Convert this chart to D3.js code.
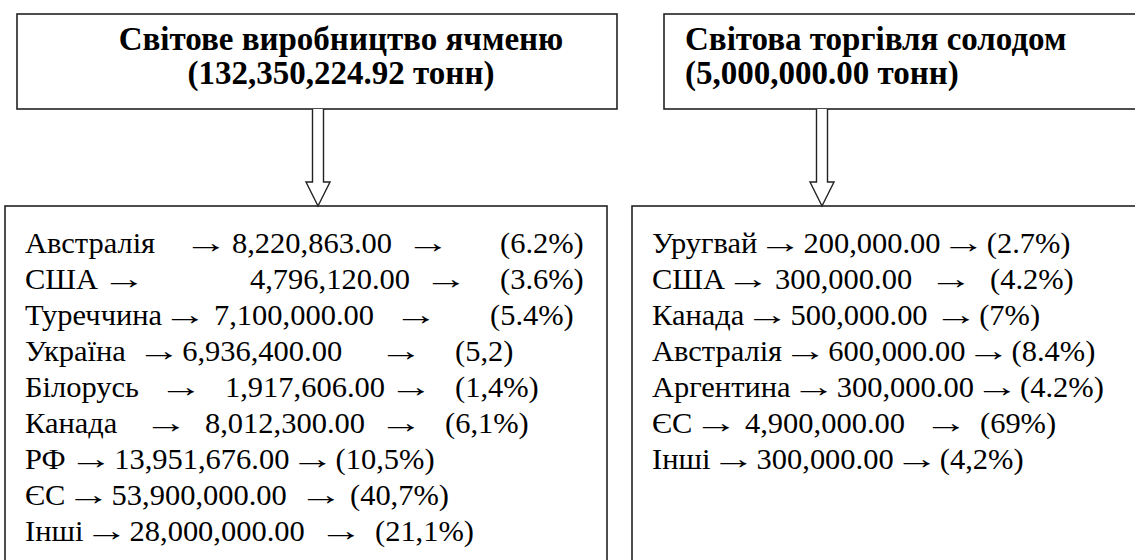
<!DOCTYPE html>
<html lang="uk">
<head>
    <meta charset="UTF-8">
    <title>Світове виробництво ячменю і торгівля солодом</title>
    <script src="https://d3js.org/d3.v7.min.js"></script>
    <style>
        body { margin: 0; background: #fff; }
        .box { fill: none; stroke: #222; stroke-width: 1.6px; }
        .block-arrow { fill: #fff; stroke: #222; stroke-width: 1.4px; }
        text { font-family: 'Liberation Serif', 'Times New Roman', 'DejaVu Serif', serif; fill: #000; }
        .title { font-weight: bold; font-size: 33px; }
    </style>
</head>
<body>
<svg width="1135" height="560"></svg>
<script>
    // --- data ---
    const prodTotal = 132350224.92;
    const prodCountries = ["Австралія", "США", "Туреччина", "Україна", "Білорусь", "Канада", "РФ", "ЄС", "Інші"];
    const prodValues = [8220863, 4796120, 7100000, 6936400, 1917606, 8012300, 13951676, 53900000, 28000000];
    const prodShares = ["(6.2%)", "(3.6%)", "(5.4%)", "(5,2)", "(1,4%)", "(6,1%)", "(10,5%)", "(40,7%)", "(21,1%)"];

    const tradeTotal = 5000000;
    const tradeCountries = ["Уругвай", "США", "Канада", "Австралія", "Аргентина", "ЄС", "Інші"];
    const tradeValues = [200000, 300000, 500000, 600000, 300000, 4900000, 300000];
    const tradeShares = ["(2.7%)", "(4.2%)", "(7%)", "(8.4%)", "(4.2%)", "(69%)", "(4,2%)"];

    // --- layout: wanted x of arrow, value, arrow, share in each row ---
    const prodCols = [
        [184, 232, 406, 500],
        [102, 250, 424, 500],
        [162, 214, 394, 490],
        [137, 182, 379, 455],
        [159, 225, 389, 455],
        [144, 205, 379, 445],
        [69, 104, 282, 318],
        [62, 106, 299, 350],
        [82, 126, 319, 375]
    ];
    const tradeCols = [
        [757, 790, 929, 975],
        [721, 775, 929, 990],
        [742, 782, 934, 975],
        [777, 810, 949, 990],
        [787, 820, 959, 1000],
        [694, 745, 924, 980],
        [702, 735, 874, 922]
    ];

    const svg = d3.select("svg");
    const fmt = d3.format(",.2f");
    const rowY = d3.scaleLinear().domain([0, 8]).range([253, 541]);

    // pick a font size so that a sample string gets the wanted width
    function fitSize(str, width) {
        const t = svg.append("text").attr("font-size", 100).text(str);
        const w = t.node().getComputedTextLength();
        t.remove();
        return 100 * width / w;
    }
    const rowSize = Math.min(33, fitSize("8,220,863.00", 160));

    // top boxes
    svg.append("rect").attr("class", "box").attr("x", 17).attr("y", 14).attr("width", 600).attr("height", 95);
    svg.append("rect").attr("class", "box").attr("x", 664).attr("y", 14).attr("width", 500).attr("height", 95);

    // bottom boxes (run past the lower / right edge)
    svg.append("rect").attr("class", "box").attr("x", 5).attr("y", 206).attr("width", 602).attr("height", 400);
    svg.append("rect").attr("class", "box").attr("x", 632).attr("y", 206).attr("width", 540).attr("height", 400);

    // titles
    const t1 = svg.append("text").attr("class", "title").attr("text-anchor", "middle");
    t1.append("tspan").attr("x", 341).attr("y", 50).text("Світове виробництво ячменю");
    t1.append("tspan").attr("x", 341).attr("y", 84).text("(" + fmt(prodTotal) + " тонн)");

    const t2 = svg.append("text").attr("class", "title");
    t2.append("tspan").attr("x", 685).attr("y", 50).text("Світова торгівля солодом");
    t2.append("tspan").attr("x", 685).attr("y", 84).text("(" + fmt(tradeTotal) + " тонн)");

    // hollow block arrows
    function blockArrow(cx, y0, y1) {
        const sw = 5.5, hw = 12, hh = 24;
        const p = d3.path();
        p.moveTo(cx - sw, y0);
        p.lineTo(cx - sw, y1 - hh);
        p.lineTo(cx - hw, y1 - hh);
        p.lineTo(cx, y1);
        p.lineTo(cx + hw, y1 - hh);
        p.lineTo(cx + sw, y1 - hh);
        p.lineTo(cx + sw, y0);
        svg.append("path").attr("class", "block-arrow").attr("d", p.toString());
    }
    blockArrow(318, 109, 206);
    blockArrow(822, 109, 206);

    // rows; long thin arrows are the glyph stretched sideways
    const arrowK = 1.45;
    function drawRows(countries, values, shares, cols, x0) {
        const g = svg.append("g").attr("font-size", rowSize);
        countries.forEach((c, i) => {
            const y = rowY(i);
            const parts = [c, "→", fmt(values[i]), "→", shares[i]];
            const xs = [x0].concat(cols[i]);
            let end = 0;
            parts.forEach((s, j) => {
                const x = Math.max(xs[j], end + 1);
                const t = g.append("text").text(s);
                const w = t.node().getComputedTextLength();
                if (s === "→") {
                    t.attr("transform", `translate(${x},${y}) scale(${arrowK},1)`);
                    end = x + w * arrowK;
                } else {
                    t.attr("x", x).attr("y", y);
                    end = x + w;
                }
            });
        });
    }
    drawRows(prodCountries, prodValues, prodShares, prodCols, 25);
    drawRows(tradeCountries, tradeValues, tradeShares, tradeCols, 652);
</script>
</body>
</html>
